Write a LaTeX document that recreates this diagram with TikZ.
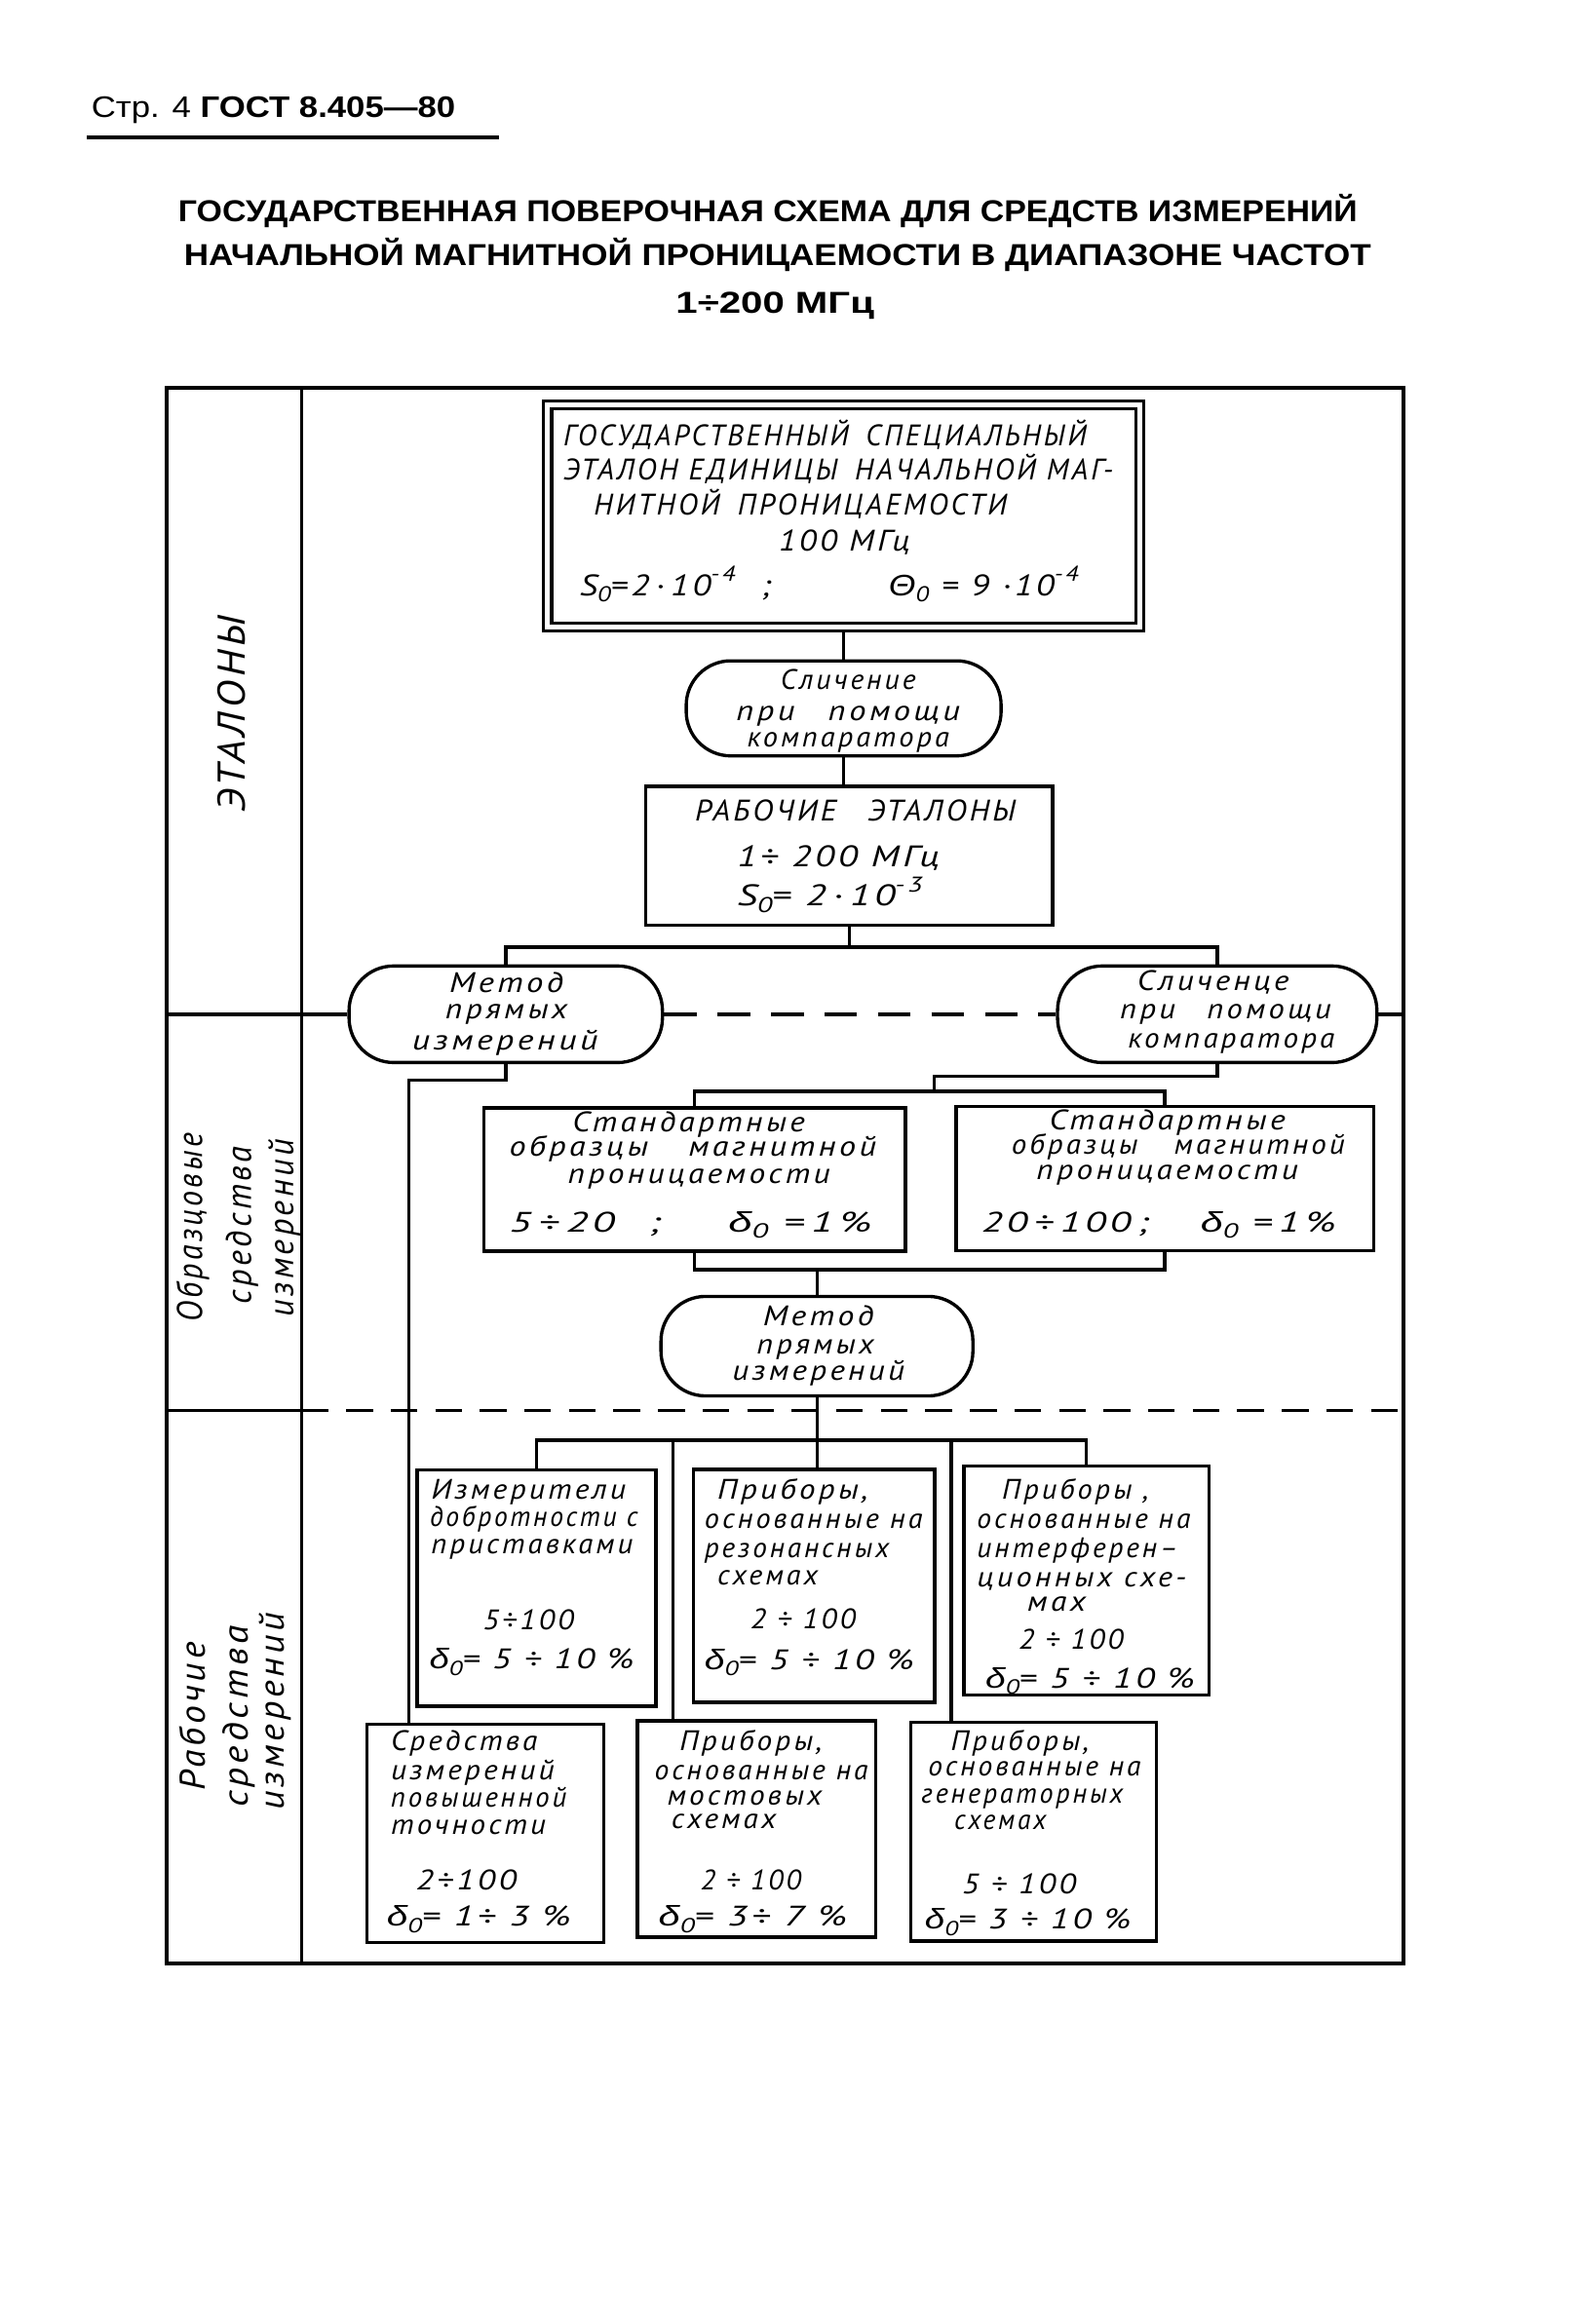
\documentclass[tikz,border=0pt]{standalone}
\usepackage{fontspec}
\usepackage{graphicx}
\setmainfont{PT Sans}
\newfontfamily\gost{PT Sans}[LetterSpace=10]
\newfontfamily\ttl{Liberation Sans}
\newfontfamily\grk{Liberation Sans}
\newdimen\um \um=0.5pt
\newcommand\fitw[2]{\resizebox{#1\um}{\height}{#2}}
\newcommand\sbz[1]{\raisebox{-0.45ex}{\scalebox{0.72}{#1}}}
\newcommand\sps[1]{\raisebox{0.95ex}{\scalebox{0.72}{#1}}}
\newcommand\dz{{\grk δ}\sbz{0}}
\newcommand\Sz{S\sbz{0}}
\newcommand\Tz{{\grk Θ}\sbz{0}}
\tikzset{
  ln/.style={line width=1.1pt},
  sz/.style 2 args={minimum width=#1*0.5pt, minimum height=#2*0.5pt},
  bx/.style={draw, line width=1.1pt, inner sep=0pt, rectangle},
  stad/.style={draw, line width=1.1pt, inner sep=0pt, rectangle, rounded corners=15pt},
  tw/.style={anchor=base west, inner sep=0pt, font=\gost\itshape\fontsize{9.5}{11}\selectfont},
  tc/.style={anchor=base, inner sep=0pt, font=\gost\itshape\fontsize{9.5}{11}\selectfont},
  tcap/.style={anchor=base west, inner sep=0pt, font=\gost\itshape\fontsize{10}{12}\selectfont},
  lbl/.style={anchor=base, inner sep=0pt, rotate=90, font=\gost\itshape\fontsize{12}{14}\selectfont},
  ttlst/.style={anchor=base, inner sep=0pt, font=\ttl\bfseries\fontsize{10.2}{12}\selectfont},
  dashA/.style={ln, dash pattern=on 11pt off 7pt},
  dashB/.style={ln, dash pattern=on 9pt off 6pt},
}
\begin{document}
\begin{tikzpicture}[x=0.5pt,y=-0.5pt]
\fill[white] (0,0) rectangle (1061,1565);
\useasboundingbox (0,0) rectangle (1061,1565);

% header
\node[anchor=base west, inner sep=0pt, font=\ttl\fontsize{10}{11}\selectfont] (hdr) at (61.2,79.2) {\fitw{245}{Стр. 4 \textbf{ГОСТ 8.405—80}}};
\draw[line width=1.3pt] (58.4,92.3) -- (336,92.3);

% title
\node[ttlst] (ti1) at (517,149) {\fitw{794}{ГОСУДАРСТВЕННАЯ ПОВЕРОЧНАЯ СХЕМА ДЛЯ СРЕДСТВ ИЗМЕРЕНИЙ}};
\node[ttlst] (ti2) at (523.5,179) {\fitw{799}{НАЧАЛЬНОЙ МАГНИТНОЙ ПРОНИЦАЕМОСТИ В ДИАПАЗОНЕ ЧАСТОТ}};
\node[ttlst] (ti3) at (521.8,211) {\fitw{133.6}{1÷200 МГц}};

% frame
\draw[line width=1.2pt] (112,261) rectangle (945,1322);
\draw[line width=1.2pt] (203,261) -- (203,1322);
\coordinate (fL1) at (112,683);
\coordinate (fR1) at (945,683);
\coordinate (fL2) at (112,950);
\coordinate (fI2) at (203,950);
\coordinate (fR2) at (945,950);

% labels
\node[lbl, font=\gost\itshape\fontsize{13}{15}\selectfont] (lE) at (165,481) {\fitw{132}{ЭТАЛОНЫ}};
\node[lbl] (lO1) at (136,826.5) {\fitw{127}{Образцовые}};
\node[lbl] (lO2) at (169,825) {\fitw{106}{средства}};
\node[lbl] (lO3) at (197.5,827) {\fitw{119.5}{измерений}};
\node[lbl] (lR1) at (138.2,1156) {\fitw{100}{Рабочие}};
\node[lbl] (lR2) at (167.3,1156) {\fitw{122}{средства}};
\node[lbl] (lR3) at (191.4,1152.5) {\fitw{133}{измерений}};

% shapes
\node[bx, double, double distance=1.6pt, outer sep=1.9pt, sz={398.6}{149.6}] (top) at (568,347.5) {};
\node[stad, sz={212}{64}] (e1) at (568,477) {};
\node[bx, sz={274}{93.4}] (b3) at (571.7,576.3) {};
\node[stad, sz={211}{65}] (eL) at (340.5,683) {};
\node[stad, sz={215}{65}] (eR) at (819.5,683) {};
\node[bx, sz={284}{96.5}] (bA) at (467.6,794.3) {};
\node[bx, sz={281}{97}] (bB) at (784.2,793.5) {};
\node[stad, sz={210}{67}] (eC) at (550,906.5) {};
\node[bx, sz={160.7}{159.3}] (R1a) at (361.2,1069.3) {};
\node[bx, sz={162.4}{156.8}] (R1b) at (548,1068) {};
\node[bx, sz={165.2}{154.5}] (R1c) at (731.5,1064.3) {};
\node[bx, sz={159.5}{147}] (R2a) at (326.8,1234.7) {};
\node[bx, sz={160.7}{145.7}] (R2b) at (509.4,1231.7) {};
\node[bx, sz={165.2}{147}] (R2c) at (696,1233.5) {};

% connectors
\coordinate (j1) at (571.7,637.7);
\coordinate (cL) at (275.2,727.5);
\coordinate (cR) at (629,724.7);
\coordinate (cR2) at (629,735);
\coordinate (cM) at (550,855);
\coordinate (cB) at (550,969.8);
\coordinate (v1) at (453.3,969.8);
\coordinate (v2) at (640.4,969.8);
\draw[ln] (top.south) -- (e1.north);
\draw[ln] (e1.south) -- (e1.south |- b3.north);
\draw[ln] (b3.south) -- (j1);
\draw[ln] (eL.north) |- (j1) -| (eR.north);
\draw[ln] (fL1) -- (eL.west);
\draw[dashA] (eL.east) -- (eR.west);
\draw[ln] (eR.east) -- (fR1);
\draw[ln] (eL.south) |- (cL) -- (cL |- R2a.north);
\draw[ln] (eR.south) |- (cR) -- (cR2);
\draw[ln] (bA.north) |- (cR2) -| (bB.north);
\draw[ln] (bA.south) |- (cM) -| (bB.south);
\draw[ln] (cM) -- (eC.north);
\draw[ln] (eC.south) -- (eC.south |- R1b.north);
\draw[ln] (R1a.north) |- (cB) -| (R1c.north);
\draw[ln] (v1) -- (v1 |- R2b.north);
\draw[ln] (v2) -- (v2 |- R2c.north);
\draw[ln] (fL2) -- (fI2);
\draw[dashB] (fI2) -- (fR2);

% top box text
\node[tcap] (t1) at (379,300) {\fitw{352}{ГОСУДАРСТВЕННЫЙ\hspace{0.6em}СПЕЦИАЛЬНЫЙ}};
\node[tcap] (t2) at (379,323) {\fitw{370}{ЭТАЛОН ЕДИНИЦЫ\hspace{0.6em}НАЧАЛЬНОЙ МАГ-}};
\node[tcap] (t3) at (399.5,346.5) {\fitw{278}{НИТНОЙ\hspace{0.6em}ПРОНИЦАЕМОСТИ}};
\node[tcap] (t4) at (524,371) {\fitw{88}{100 МГц}};
\node[tcap] (t5) at (390,401) {\fitw{128.5}{\Sz=2\,·\,10\sps{-4}\ \ ;}};
\node[tcap] (t6) at (598,401) {\fitw{127.7}{\Tz\ =\ 9\ ·10\sps{-4}}};

% e1 text
\node[tc] (e1a) at (571,464) {\fitw{91}{Сличение}};
\node[tc] (e1b) at (571,485) {\fitw{150.5}{при\quad помощи}};
\node[tc] (e1c) at (571,502.8) {\fitw{136}{компаратора}};

% b3 text
\node[tcap] (b3a) at (467.5,553) {\fitw{215.8}{РАБОЧИЕ\quad ЭТАЛОНЫ}};
\node[tcap] (b3b) at (496,583.7) {\fitw{136}{1÷ 200 МГц}};
\node[tcap] (b3c) at (496,610) {\fitw{124.7}{\Sz= 2\,·\,10\sps{-3}}};

% eL, eR text
\node[tc] (eLa) at (341,668) {\fitw{76.7}{Метод}};
\node[tc] (eLb) at (341,686) {\fitw{82}{прямых}};
\node[tc] (eLc) at (340,707) {\fitw{125}{измерений}};
\node[tc] (eRa) at (816.7,667) {\fitw{102}{Сличенце}};
\node[tc] (eRb) at (825.2,686) {\fitw{142}{при\quad помощи}};
\node[tc] (eRc) at (829,706) {\fitw{139}{компаратора}};

% bA, bB text
\node[tw] (bAa) at (385,762) {\fitw{156.5}{Стандартные}};
\node[tw] (bAb) at (342.5,778.5) {\fitw{247}{образцы\hspace{1.2em}магнитной}};
\node[tw] (bAc) at (382,797) {\fitw{176.5}{проницаемости}};
\node[tw] (bAd) at (342.5,829.5) {\fitw{244}{5\,÷\,20\hspace{0.8em};\hspace{1.6em}\dz\ =\,1\,\%}};
\node[tw] (bBa) at (706,761) {\fitw{159}{Стандартные}};
\node[tw] (bBb) at (680.6,777.5) {\fitw{224.4}{образцы\hspace{1.2em}магнитной}};
\node[tw] (bBc) at (697.6,794) {\fitw{176}{проницаемости}};
\node[tw] (bBd) at (660.6,829.5) {\fitw{238.4}{20\,÷\,100\,;\hspace{1.3em}\dz\ =\,1\,\%}};

% eC text
\node[tc] (eCa) at (551,892.4) {\fitw{74.5}{Метод}};
\node[tc] (eCb) at (549,912) {\fitw{78.8}{прямых}};
\node[tc] (eCc) at (551,929.6) {\fitw{115.9}{измерений}};

% row 1 text
\node[tw] (r1a1) at (290,1009.3) {\fitw{131}{Измерители}};
\node[tw] (r1a2) at (289,1028) {\fitw{140}{добротности с}};
\node[tw] (r1a3) at (290,1046.5) {\fitw{135.7}{приставками}};
\node[tw] (r1a4) at (324.8,1097.5) {\fitw{61.2}{5÷100}};
\node[tw] (r1a5) at (288.7,1124) {\fitw{137.8}{\dz= 5 ÷ 10 \%}};
\node[tw] (r1b1) at (482.6,1009.3) {\fitw{101.4}{Приборы,}};
\node[tw] (r1b2) at (474,1029) {\fitw{146.7}{основанные на}};
\node[tw] (r1b3) at (474,1048.9) {\fitw{124.2}{резонансных}};
\node[tw] (r1b4) at (482.6,1067.4) {\fitw{67.6}{схемах}};
\node[tw] (r1b5) at (505,1097) {\fitw{70.6}{2 ÷ 100}};
\node[tw] (r1b6) at (474,1124.2) {\fitw{141}{\dz= 5 ÷ 10 \%}};
\node[tw] (r1c1) at (674.3,1009.3) {\fitw{98.7}{Приборы ,}};
\node[tw] (r1c2) at (657.4,1029) {\fitw{143.7}{основанные на}};
\node[tw] (r1c3) at (657.4,1048.9) {\fitw{135.2}{интерферен–}};
\node[tw] (r1c4) at (657.4,1068.6) {\fitw{140.9}{ционных схе-}};
\node[tw] (r1c5) at (691.2,1084.7) {\fitw{39.4}{мах}};
\node[tw] (r1c6) at (685.5,1110.6) {\fitw{70.5}{2 ÷ 100}};
\node[tw] (r1c7) at (663,1136.5) {\fitw{141}{\dz= 5 ÷ 10 \%}};

% row 2 text
\node[tw] (r2a1) at (262.8,1178.5) {\fitw{98.6}{Средства}};
\node[tw] (r2a2) at (262.8,1198.3) {\fitw{109.9}{измерений}};
\node[tw] (r2a3) at (262.8,1216.8) {\fitw{118.2}{повышенной}};
\node[tw] (r2a4) at (262.8,1235.3) {\fitw{104.2}{точности}};
\node[tw] (r2a5) at (279.7,1272.4) {\fitw{67.6}{2÷100}};
\node[tw] (r2a6) at (260,1297) {\fitw{124}{\dz = 1÷ 3 \%}};
\node[tw] (r2b1) at (457.2,1178.5) {\fitw{95.8}{Приборы,}};
\node[tw] (r2b2) at (440.3,1198.3) {\fitw{143.7}{основанные на}};
\node[tw] (r2b3) at (448.8,1215.6) {\fitw{104.2}{мостовых}};
\node[tw] (r2b4) at (451.6,1231.6) {\fitw{70.4}{схемах}};
\node[tw] (r2b5) at (471.3,1272.4) {\fitw{67.7}{2 ÷ 100}};
\node[tw] (r2b6) at (443,1297) {\fitw{127}{\dz = 3÷ 7 \%}};
\node[tw] (r2c1) at (639.8,1179) {\fitw{92.9}{Приборы,}};
\node[tw] (r2c2) at (624.5,1196) {\fitw{143.2}{основанные на}};
\node[tw] (r2c3) at (620,1214) {\fitw{135.7}{генераторных}};
\node[tw] (r2c4) at (642,1232) {\fitw{62}{схемах}};
\node[tw] (r2c5) at (647.4,1275) {\fitw{76.6}{5 ÷ 100}};
\node[tw] (r2c6) at (622.3,1299) {\fitw{138.7}{\dz= 3 ÷ 10 \%}};
\end{tikzpicture}
\end{document}
